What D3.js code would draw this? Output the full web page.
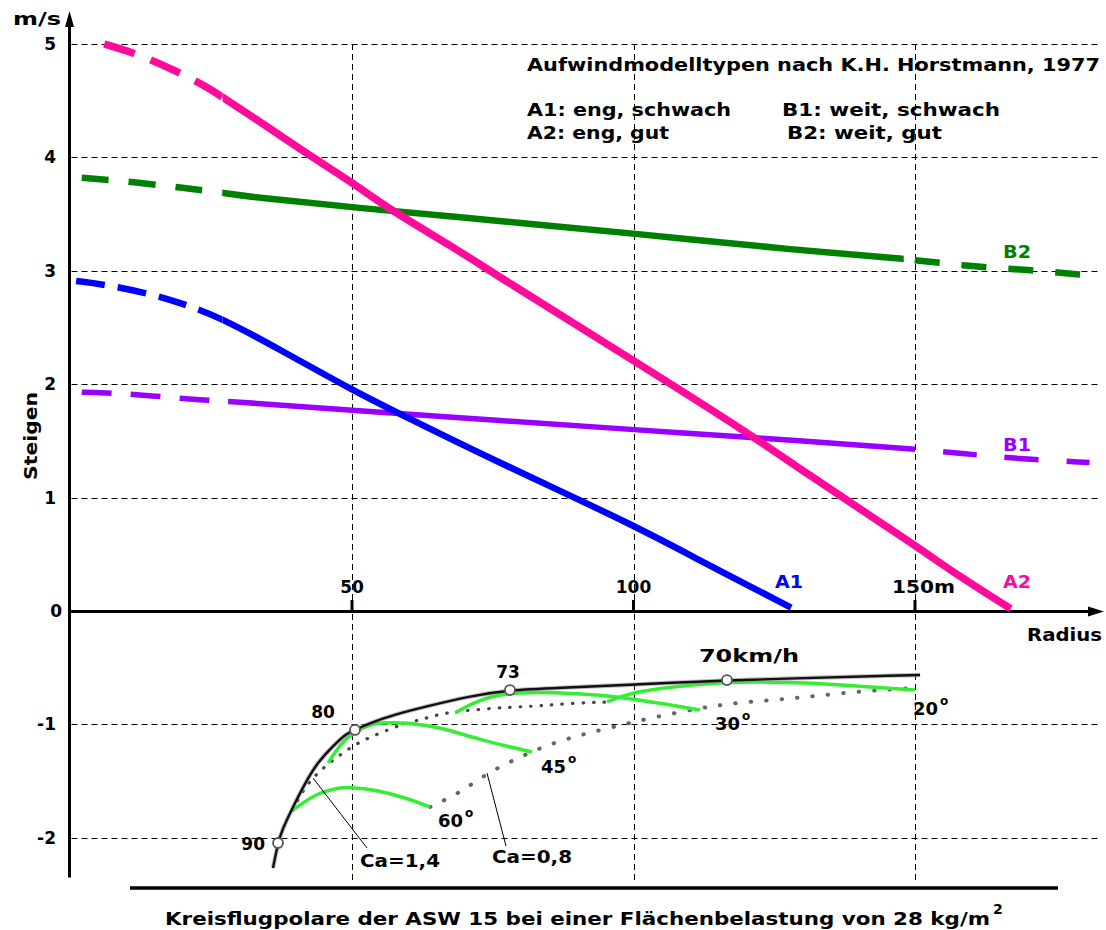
<!DOCTYPE html>
<html><head><meta charset="utf-8">
<script src="https://cdn.jsdelivr.net/npm/d3@7"></script>
<style>
body{margin:0;background:#fff}
svg{display:block}
text{font-family:"DejaVu Sans",Verdana,sans-serif;font-weight:bold;fill:#000}
</style>
</head><body>
<svg id="chart" width="1106" height="930"></svg>
<script>
// ---------- axis ticks ----------
const xTicks = [50, 100, 150];
const xTickLabels = ["50", "100", "150m"];
const yTicks = [5, 4, 3, 2, 1, 0, -1, -2];
const yTickLabels = ["5", "4", "3", "2", "1", "0", "-1", "-2"];

// ---------- thermal models (Radius m, Steigen m/s) ----------
const seriesNames = ["A1", "A2", "B1", "B2"];
const legendLines = ["A1: eng, schwach", "B1: weit, schwach", "A2: eng, gut", "B2: weit, gut"];
const A1_r = [1, 6, 14, 20, 27, 37, 50, 58, 76, 100, 112, 128];
const A1_v = [2.91, 2.88, 2.80, 2.71, 2.58, 2.31, 1.95, 1.75, 1.31, 0.76, 0.44, 0.03];
const A2_r = [6, 12, 18, 24, 27, 32, 43, 50, 57, 68, 76, 100, 121, 129, 150, 158, 167];
const A2_v = [5.0, 4.91, 4.78, 4.63, 4.53, 4.37, 4.0, 3.78, 3.53, 3.21, 2.95, 2.21, 1.55, 1.27, 0.58, 0.30, 0.02];
const B1_r = [2, 8, 14, 23, 28, 50, 76, 100, 121, 150, 158, 169, 181];
const B1_v = [1.93, 1.92, 1.90, 1.86, 1.85, 1.77, 1.68, 1.60, 1.53, 1.43, 1.39, 1.34, 1.31];
const B2_r = [2, 12, 20, 27, 32, 50, 76, 100, 129, 148, 159, 170, 181];
const B2_v = [3.82, 3.78, 3.73, 3.69, 3.65, 3.56, 3.44, 3.33, 3.18, 3.11, 3.04, 3.01, 2.96];
// radius range where each model is drawn solid (dashed outside)
const A1_solid = [27, 200];
const A2_solid = [27, 200];
const B1_solid = [28, 150];
const B2_solid = [27, 148];

// ---------- circling polar ASW 15 (Radius m, sink m/s) ----------
const polar_r = [35.97, 36.86, 37.57, 39.52, 41.30, 43.78, 46.45, 49.11, 50.53, 53.2, 57.28, 63.32, 71.49, 78.06, 86.41, 99.91, 116.6, 150.9];
const polar_v = [-2.266, -2.046, -1.931, -1.728, -1.552, -1.340, -1.199, -1.076, -1.049, -0.988, -0.917, -0.840, -0.745, -0.697, -0.679, -0.650, -0.609, -0.564];
const speedLabels = ["90", "80", "73", "70km/h"];
const speed_r = [36.86, 50.53, 78.06, 116.6];
const speed_v = [-2.046, -1.049, -0.697, -0.609];

// bank angle curves
const bankLabels = ["60", "45", "30", "20"];
const bank60_r = [39.52, 43.78, 47.34, 49.65, 54.44, 59.06, 63.85];
const bank60_v = [-1.755, -1.605, -1.561, -1.552, -1.579, -1.640, -1.728];
const bank45_r = [45.74, 47.87, 49.29, 51.95, 54.97, 60.30, 65.63, 72.74, 81.97];
const bank45_v = [-1.340, -1.182, -1.111, -1.023, -0.979, -0.988, -1.023, -1.138, -1.243];
const bank30_r = [68.31, 71.49, 74.51, 77.53, 86.41, 94.05, 101.15, 111.8];
const bank30_v = [-0.899, -0.811, -0.758, -0.723, -0.714, -0.741, -0.785, -0.873];
const bank20_r = [95.29, 99.38, 105.95, 116.6, 123.7, 132.6, 141.5, 150.0];
const bank20_v = [-0.800, -0.723, -0.670, -0.626, -0.626, -0.635, -0.670, -0.697];

// lift coefficient lines
const caLabels = ["Ca=1,4", "Ca=0,8"];
const ca14_r = [39.52, 41.30, 43.07, 44.85, 47.87, 50.89, 54.97, 59.06, 62.08, 66.16, 71.31, 78.06, 83.39, 89.25, 95.29];
const ca14_v = [-1.755, -1.578, -1.473, -1.384, -1.270, -1.164, -1.076, -0.996, -0.961, -0.899, -0.873, -0.847, -0.838, -0.811, -0.803];
const ca08_r = [63.85, 69.18, 73.98, 79.84, 84.64, 90.50, 96.36, 102.93, 111.8, 118.0, 124.8, 130.8, 137.2, 143.8, 150.0];
const ca08_v = [-1.728, -1.605, -1.429, -1.287, -1.182, -1.093, -1.023, -0.944, -0.855, -0.811, -0.785, -0.758, -0.723, -0.697, -0.679];

// texts
const titleText = "Aufwindmodelltypen nach K.H. Horstmann, 1977";
const captionText = "Kreisflugpolare der ASW 15 bei einer Flächenbelastung von 28 kg/m";
const yAxisTitle = "Steigen";
const yUnit = "m/s";
const xAxisTitle = "Radius";

// ---------- drawing ----------
const svg = d3.select("#chart");
const defs = svg.append("defs");
const x = d3.scaleLinear().domain([0, 150]).range([70.5, 915]);
const y = d3.scaleLinear().domain([0, 5]).range([611, 44]);
const zip = (a, b) => a.map((v, i) => [v, b[i]]);
const line = d3.line().x(d => x(d[0])).y(d => y(d[1])).curve(d3.curveBasis);

const X0 = x(0) - 1, XR = 1098;

function stretchText(sel, len) {
  return sel.attr("textLength", len).attr("lengthAdjust", "spacingAndGlyphs");
}

// grid
const grid = svg.append("g").attr("stroke", "#000").attr("stroke-width", 1).attr("stroke-dasharray", "6,4");
yTicks.filter(t => t !== 0).forEach(t => {
  grid.append("line").attr("x1", X0 + 2).attr("x2", XR).attr("y1", Math.round(y(t)) + 0.5).attr("y2", Math.round(y(t)) + 0.5);
});
xTicks.forEach(t => {
  grid.append("line").attr("x1", Math.round(x(t)) + 0.5).attr("x2", Math.round(x(t)) + 0.5).attr("y1", y(5)).attr("y2", y(-2.4));
});

// axes
const axes = svg.append("g");
axes.append("line").attr("x1", X0).attr("x2", X0).attr("y1", y(-2.35)).attr("y2", 24).attr("stroke", "#000").attr("stroke-width", 3);
axes.append("path").attr("d", `M${X0},11 L${X0 - 4.5},27 L${X0 + 4.5},27 Z`).attr("fill", "#000");
axes.append("line").attr("x1", X0).attr("x2", 1090).attr("y1", y(0) + 0.5).attr("y2", y(0) + 0.5).attr("stroke", "#000").attr("stroke-width", 3);
axes.append("path").attr("d", `M1104,${y(0) + 0.5} L1088,${y(0) - 4.5} L1088,${y(0) + 5.5} Z`).attr("fill", "#000");
xTicks.forEach(t => {
  axes.append("line").attr("x1", x(t)).attr("x2", x(t)).attr("y1", y(0) - 11).attr("y2", y(0)).attr("stroke", "#000").attr("stroke-width", 3);
});

// tick labels
yTicks.forEach((t, i) => {
  svg.append("text").attr("x", t === 0 ? 62 : 56).attr("y", y(t) + 6).attr("text-anchor", "end")
    .attr("font-size", 17).text(yTickLabels[i]);
});
xTicks.forEach((t, i) => {
  const tx = svg.append("text").attr("y", 593).attr("font-size", 17).text(xTickLabels[i]);
  if (i === 2) stretchText(tx.attr("x", x(t) - 23), 63);
  else tx.attr("x", x(t)).attr("text-anchor", "middle");
});

// axis titles
stretchText(svg.append("text").attr("x", 13).attr("y", 25).attr("font-size", 17).text(yUnit), 48);
stretchText(svg.append("text").attr("transform", "translate(37,480) rotate(-90)").attr("font-size", 17).text(yAxisTitle), 88);
stretchText(svg.append("text").attr("x", 1027).attr("y", 641).attr("font-size", 17).text(xAxisTitle), 75);

// title and legend text
stretchText(svg.append("text").attr("x", 527).attr("y", 71).attr("font-size", 17).text(titleText), 573);
const legendPos = [[527, 116, 204], [782, 116, 218], [527, 139, 142], [787, 139, 155]];
legendLines.forEach((s, i) => {
  stretchText(svg.append("text").attr("x", legendPos[i][0]).attr("y", legendPos[i][1]).attr("font-size", 17).text(s), legendPos[i][2]);
});

// clip helper: vertical band between two radius values
let clipId = 0;
function band(r0, r1) {
  const id = "clip" + (clipId++);
  defs.append("clipPath").attr("id", id).append("rect")
    .attr("x", x(r0)).attr("y", 0).attr("width", Math.max(0, x(r1) - x(r0))).attr("height", 930);
  return `url(#${id})`;
}
// path length from start to the point where the path reaches pixel column px
function lengthAtX(node, px) {
  let lo = 0, hi = node.getTotalLength();
  for (let k = 0; k < 40; k++) {
    const mid = (lo + hi) / 2;
    if (node.getPointAtLength(mid).x < px) lo = mid; else hi = mid;
  }
  return lo;
}

// thermal model curves: one smooth path, clipped into dashed / solid / dashed parts
function drawSeries(rs, vs, solid, color, width, dashStart, dashEnd) {
  const d = line(zip(rs, vs));
  const g = svg.append("g").attr("fill", "none").attr("stroke", color).attr("stroke-width", width);
  g.append("path").attr("d", d).attr("stroke-dasharray", dashStart).attr("clip-path", band(-20, solid[0]));
  g.append("path").attr("d", d).attr("clip-path", band(solid[0], solid[1]));
  if (dashEnd) {
    const p = g.append("path").attr("d", d).attr("stroke-dasharray", dashEnd.dash.join(","))
      .attr("clip-path", band(solid[1], 220));
    const L = lengthAtX(p.node(), x(solid[1]));
    // the end part starts with a gap of length firstGap (<= gap)
    const dash = dashEnd.dash[0], gap = dashEnd.dash[1], period = dash + gap;
    const pos = dash + (gap - dashEnd.firstGap);
    p.attr("stroke-dashoffset", (((pos - L) % period) + period) % period);
  }
}
const cB1 = "#9900ff", cB2 = "#008000", cA1 = "#0000ff", cA2 = "#ff0a9a";
drawSeries(B1_r, B1_v, B1_solid, cB1, 5.5, "30,19", {dash: [34, 28], firstGap: 28});
drawSeries(B2_r, B2_v, B2_solid, cB2, 6.5, "27,20", {dash: [25, 22], firstGap: 11});
drawSeries(A1_r, A1_v, A1_solid, cA1, 6.5, "29,13", null);
drawSeries(A2_r, A2_v, A2_solid, cA2, 7.5, "32,17", null);

// series labels
const seriesColors = [cA1, cA2, cB1, cB2];
const seriesLabelPos = [[775, 588], [1003, 588], [1003, 451], [1003, 258]];
seriesNames.forEach((s, i) => {
  stretchText(svg.append("text").attr("x", seriesLabelPos[i][0]).attr("y", seriesLabelPos[i][1]).attr("font-size", 17)
    .style("fill", seriesColors[i]).text(s), 28);
});

// ---------- lower part: circling polar ----------
const dot = svg.append("g").attr("fill", "none").attr("stroke-linecap", "round");
dot.append("path").attr("d", line(zip(ca14_r, ca14_v))).attr("stroke", "#444").attr("stroke-width", 3.2).attr("stroke-dasharray", "0.5,10");
dot.append("path").attr("d", line(zip(ca08_r, ca08_v))).attr("stroke", "#666").attr("stroke-width", 4).attr("stroke-dasharray", "0.5,15");

const bankR = [bank60_r, bank45_r, bank30_r, bank20_r];
const bankV = [bank60_v, bank45_v, bank30_v, bank20_v];
const bankG = svg.append("g").attr("fill", "none").attr("stroke", "#33ee33").attr("stroke-width", 3.5);
bankR.forEach((rs, i) => bankG.append("path").attr("d", line(zip(rs, bankV[i]))));

svg.append("path").attr("d", line(zip(polar_r, polar_v))).attr("fill", "none").attr("stroke", "#999").attr("stroke-width", 4.5).attr("opacity", 0.6);
svg.append("path").attr("d", line(zip(polar_r, polar_v))).attr("fill", "none").attr("stroke", "#111").attr("stroke-width", 2.4);

// speed markers
speed_r.forEach((r, i) => {
  svg.append("circle").attr("cx", x(r)).attr("cy", y(speed_v[i])).attr("r", 5).attr("fill", "#fff").attr("stroke", "#555").attr("stroke-width", 1.8);
});
const speedOff = [[-13, 7, "end"], [-32, -12, "middle"], [-2, -12, "middle"], [22, -18, "middle"]];
speedLabels.forEach((s, i) => {
  const t = svg.append("text").attr("x", x(speed_r[i]) + speedOff[i][0]).attr("y", y(speed_v[i]) + speedOff[i][1])
    .attr("text-anchor", speedOff[i][2]).attr("font-size", 17).text(s);
  if (i === 3) stretchText(t, 100);
});

// bank angle labels
const bankOff = [[8, 20], [9, 21], [15, 20], [-2, 25]];
bankLabels.forEach((s, i) => {
  const rs = bankR[i], vs = bankV[i];
  const ex = x(rs[rs.length - 1]) + bankOff[i][0], ey = y(vs[vs.length - 1]) + bankOff[i][1];
  stretchText(svg.append("text").attr("x", ex).attr("y", ey).attr("font-size", 17).text(s), 25);
  svg.append("text").attr("x", ex + 27).attr("y", ey - 10).attr("font-size", 12).text("o");
});

// Ca leader lines and labels
const caAnchor = [[ca14_r[2], ca14_v[2]], [ca08_r[2], ca08_v[2]]];
const caEnd = [[367, 848], [506, 846]];
const caText = [[360, 867, 80], [492, 863, 80]];
caLabels.forEach((s, i) => {
  svg.append("line").attr("x1", x(caAnchor[i][0])).attr("y1", y(caAnchor[i][1]))
    .attr("x2", caEnd[i][0]).attr("y2", caEnd[i][1]).attr("stroke", "#000").attr("stroke-width", 1);
  stretchText(svg.append("text").attr("x", caText[i][0]).attr("y", caText[i][1]).attr("font-size", 17).text(s), caText[i][2]);
});

// bottom rule and caption
svg.append("line").attr("x1", 130).attr("x2", 1058).attr("y1", 888).attr("y2", 888).attr("stroke", "#000").attr("stroke-width", 3.5);
stretchText(svg.append("text").attr("x", 165).attr("y", 925).attr("font-size", 17).text(captionText), 825);
svg.append("text").attr("x", 993).attr("y", 914).attr("font-size", 14).text("2");
</script>
</body></html>
